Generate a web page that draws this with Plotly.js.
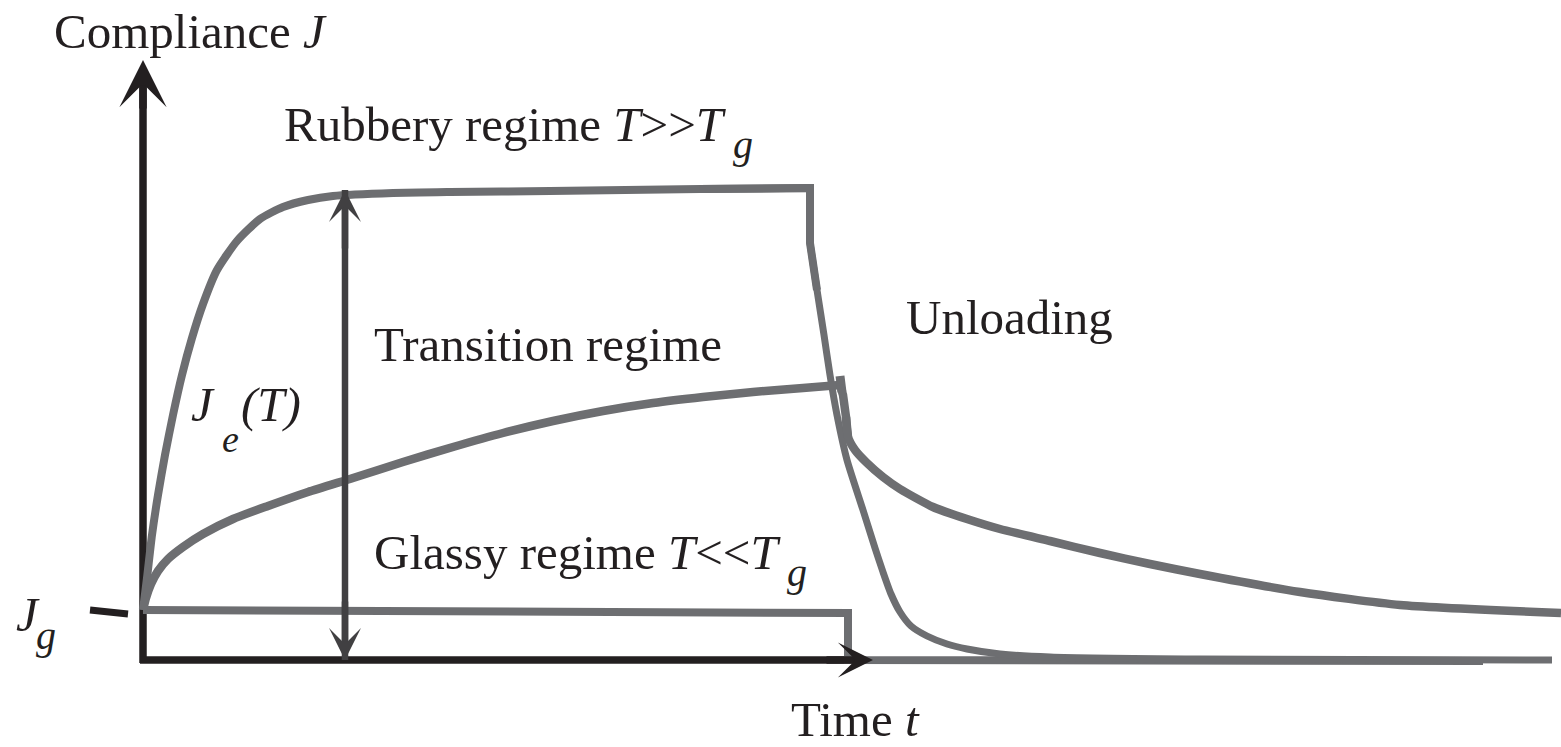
<!DOCTYPE html>
<html>
<head>
<meta charset="utf-8">
<script src="https://cdn.plot.ly/plotly-3.0.1.min.js"></script>
<style>html,body{margin:0;padding:0;background:#fff;}#chart{width:1561px;height:747px;}</style>
</head>
<body>
<div id="chart"></div>
<script>
// ---- Data (time t, compliance J in arbitrary schematic units) ----
const rubberyLoadT = [0, 4, 9, 15, 22, 30, 39, 49, 60, 74, 94, 117, 140, 165, 190, 250, 307, 407, 557, 667];
const rubberyLoadJ = [50, 82, 125, 165, 205, 245, 285, 322, 356, 390, 419, 441, 453, 460, 464, 467, 468, 469, 471, 472];
const rubberyStepT = [557, 667, 667, 674];
const rubberyStepJ = [471, 472, 417, 370];
const rubberyUnloadT = [667, 674, 681, 687, 694, 704, 720, 732, 740, 748, 757, 768, 784, 804, 824, 857, 907, 1057, 1409];
const rubberyUnloadJ = [417, 370, 325, 285, 245, 200, 150, 112, 88, 66, 48, 34, 24, 16, 11, 6, 3, 1, 0];

const transLoadT = [0, 3, 8, 15, 25, 40, 60, 90, 125, 165, 210, 260, 310, 360, 410, 460, 510, 560, 610, 660, 697];
const transLoadJ = [50, 62, 76, 89, 101, 113, 126, 141, 154, 168, 182, 198, 213, 227, 239, 249, 257, 263, 268, 272, 275];
const transTickT = [697, 699];
const transTickJ = [284, 268];
const transStepT = [697, 700, 703, 705];
const transStepJ = [275, 265, 243, 223];
const transUnloadT = [703, 705, 712, 724, 740, 757, 790, 824, 857, 907, 957, 1007, 1057, 1157, 1257, 1418];
const transUnloadJ = [243, 223, 210, 197, 183, 171, 153, 141, 131, 119, 107, 96, 86, 68, 55, 47];

const glassyT = [0, 705, 705, 1340];
const glassyJ = [50, 47, 0, -1];

const jgTickT = [-53, -15];
const jgTickJ = [50, 46];

// axes and the J_e(T) double arrow
const yAxisT = [0, 0];
const yAxisJ = [-3, 590];
const yAxisTip = [0, 600];
const xAxisT = [-3, 722];
const xAxisJ = [0, 0];
const xAxisTip = [730, 0];
const jeArrowT = [202, 202];
const jeArrowJ = [0, 470];

// labels
const labels = [
  {text: 'Compliance <i>J</i>', t: -90, j: 629, size: 49},
  {text: 'Rubbery regime <i>T</i>&gt;&gt;<i>T</i>', t: 140, j: 536, size: 49},
  {text: '<i>g</i>', t: 589, j: 516, size: 40},
  {text: 'Transition regime', t: 230, j: 316, size: 49},
  {text: 'Unloading', t: 762, j: 343, size: 49},
  {text: '<i>J</i>', t: 47, j: 256, size: 49},
  {text: '<i>e</i>', t: 78, j: 221, size: 38},
  {text: '<i>(T)</i>', t: 97, j: 256, size: 49},
  {text: 'Glassy regime <i>T</i>&lt;&lt;<i>T</i>', t: 230, j: 108, size: 49},
  {text: '<i>g</i>', t: 643, j: 88, size: 40},
  {text: 'Time <i>t</i>', t: 647, j: -59, size: 49},
  {text: '<i>J</i>', t: -128, j: 46, size: 49},
  {text: '<i>g</i>', t: -108, j: 25, size: 40}
];

// ---- Styles ----
const GRAY = '#6d6e71';
const BLACK = '#231f20';
const DARK = '#414042';
const FONT = '"Liberation Serif", "Times New Roman", Times, serif';

function line(x, y, color, width, shape) {
  return {x: x, y: y, type: 'scatter', mode: 'lines', hoverinfo: 'skip',
          line: {color: color, width: width, shape: shape || 'linear', smoothing: 0.6}};
}

const traces = [
  line(yAxisT, yAxisJ, BLACK, 7.5),
  line(xAxisT, xAxisJ, BLACK, 7.5),
  line(jgTickT, jgTickJ, BLACK, 7),
  line(glassyT, glassyJ, GRAY, 8),
  line(rubberyLoadT, rubberyLoadJ, GRAY, 8, 'spline'),
  line(rubberyStepT, rubberyStepJ, GRAY, 8),
  line(rubberyUnloadT, rubberyUnloadJ, GRAY, 7, 'spline'),
  line(transLoadT, transLoadJ, GRAY, 8.5, 'spline'),
  line(transTickT, transTickJ, GRAY, 9),
  line(transStepT, transStepJ, GRAY, 8.5),
  line(transUnloadT, transUnloadJ, GRAY, 8.5, 'spline'),
  line(jeArrowT, jeArrowJ, DARK, 6.5)
];

function head(tipT, tipJ, tailT, tailJ, color, width, size) {
  return {x: tipT, y: tipJ, ax: tailT, ay: tailJ, xref: 'x', yref: 'y', axref: 'x', ayref: 'y',
          text: '', showarrow: true, arrowhead: 3, arrowsize: size, arrowwidth: width,
          arrowcolor: color, standoff: 0, startstandoff: 0, font: {size: 1}};
}

const annotations = [
  head(yAxisTip[0], yAxisTip[1], yAxisT[1], yAxisJ[1] - 40, BLACK, 7.5, 1.05),
  head(xAxisTip[0], xAxisTip[1], xAxisT[1] - 40, xAxisJ[1], BLACK, 7.5, 0.78),
  head(jeArrowT[1], jeArrowJ[1], jeArrowT[1], jeArrowJ[1] - 60, DARK, 6.5, 0.82),
  head(jeArrowT[0], jeArrowJ[0], jeArrowT[0], jeArrowJ[0] + 60, DARK, 6.5, 0.82)
];
labels.forEach(function (l) {
  annotations.push({x: l.t, y: l.j, xref: 'x', yref: 'y', text: l.text, showarrow: false,
                    xanchor: 'left', yanchor: 'middle', borderpad: 0,
                    font: {family: FONT, size: l.size, color: BLACK}});
});

const layout = {
  width: 1561, height: 747,
  margin: {l: 0, r: 0, t: 0, b: 0, pad: 0},
  paper_bgcolor: '#ffffff', plot_bgcolor: '#ffffff',
  showlegend: false,
  xaxis: {range: [-143, 1418], visible: false, fixedrange: true},
  yaxis: {range: [-87, 660], visible: false, fixedrange: true},
  annotations: annotations
};

Plotly.newPlot('chart', traces, layout, {displayModeBar: false, staticPlot: true});
</script>
</body>
</html>
